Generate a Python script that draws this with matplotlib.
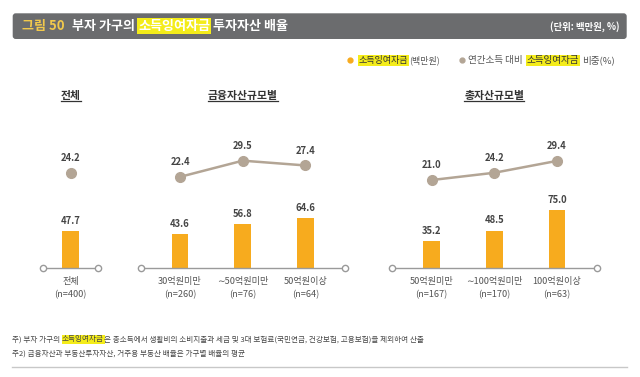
import numpy as np
import matplotlib
matplotlib.use("Agg")
from matplotlib import pyplot as plt
from matplotlib.patches import FancyBboxPatch

plt.rcParams['font.family'] = ['Noto Sans CJK KR', 'DejaVu Sans']

W, H = 640, 377

# data
total_cat = ['전체\n(n=400)']
total_amt = [47.7]
total_pct = [24.2]

fin_cat = ['30억원미만\n(n=260)', '∼50억원미만\n(n=76)', '50억원이상\n(n=64)']
fin_amt = [43.6, 56.8, 64.6]
fin_pct = [22.4, 29.5, 27.4]

asset_cat = ['50억원미만\n(n=167)', '∼100억원미만\n(n=170)', '100억원이상\n(n=63)']
asset_amt = [35.2, 48.5, 75.0]
asset_pct = [21.0, 24.2, 29.4]

panel_titles = ['전체', '금융자산규모별', '총자산규모별']

BAR = '#f7ab1e'
LINE = '#b3a595'
BASE = '#9a9a9a'
HL = '#f4ec1a'
TXT = '#444444'

fig = plt.figure(figsize=(W / 100, H / 100), dpi=100)

# overlay in pixel units for the decorations
lay = fig.add_axes([0, 0, 1, 1])
lay.set_xlim(0, W)
lay.set_ylim(H, 0)
lay.axis('off')


def chain(parts, x, y, size, weight='normal'):
    # parts: (text, colour, highlighted, gap in px before)
    prev = None
    for s, col, hl, gap in parts:
        kw = dict(fontsize=size, color=col, fontweight=weight, va='center', ha='left')
        if hl:
            kw['bbox'] = dict(boxstyle='square,pad=0.08', fc=HL, ec='none')
        if prev is None:
            prev = lay.text(x + gap, y, s, **kw)
        else:
            prev = lay.annotate(s, xy=(1, 0.5), xycoords=prev,
                                xytext=(gap * 0.72, 0), textcoords='offset points', **kw)
    return prev


# title bar
lay.add_patch(FancyBboxPatch((12.7, 13.3), 614, 25.7,
                             boxstyle='round,pad=0,rounding_size=3',
                             fc='#6b6c6e', ec='none'))
chain([('그림 50', '#f2c94c', False, 0),
       ('부자 가구의', 'white', False, 8),
       ('소득잉여자금', 'white', True, 3),
       ('투자자산 배율', 'white', False, 3)], 21.7, 25.7, 9.4, 'bold')
lay.text(619, 27, '(단위: 백만원, %)', ha='right', va='center',
         fontsize=6.8, color='white', fontweight='bold')

# legend
lay.plot([350], [60.3], 'o', color=BAR, ms=3.5)
chain([('소득잉여자금', '#333333', True, 0),
       ('(백만원)', '#555555', False, 1)], 358.5, 60.3, 6.5)
lay.plot([462], [60.3], 'o', color=LINE, ms=3.5)
chain([('연간소득 대비', '#555555', False, 0),
       ('소득잉여자금', '#333333', True, 4),
       ('비중(%)', '#555555', False, 3)], 468, 60.3, 6.9)


def panel(left, width, xlim, cats, amt, pct, title):
    ax = fig.add_axes([left / W, (H - 268.3) / H, width / W, 148 / H])
    ax.patch.set_alpha(0)
    x = np.arange(len(cats))
    ax.bar(x, amt, width=0.27, color=BAR, zorder=2)
    ax.plot(xlim, [0, 0], color=BASE, lw=1, marker='o', ms=4.5, mfc='white',
            mec=BASE, mew=1, clip_on=False, zorder=3)
    for xi, v in zip(x, amt):
        ax.annotate(f'{v:.1f}', (xi, v), xytext=(0, 7.4), textcoords='offset points',
                    ha='center', va='center', fontsize=6.8, fontweight='bold', color=TXT)
    ax.set_xlim(*xlim)
    ax.set_ylim(0, 190)
    ax.set_xticks(x, cats)
    ax.tick_params(axis='x', length=0, pad=6, labelsize=6.6, labelcolor='#555555')
    for lab in ax.get_xticklabels():
        lab.set_linespacing(1.6)
    ax.set_yticks([])
    for sp in ax.spines.values():
        sp.set_visible(False)

    ax2 = ax.twinx()
    ax2.set_ylim(-17.7, 47.2)
    ax2.plot(x, pct, color=LINE, lw=1.8, marker='o', ms=7, clip_on=False)
    for xi, v in zip(x, pct):
        ax2.annotate(f'{v:.1f}', (xi, v), xytext=(0, 10.6), textcoords='offset points',
                     ha='center', va='center', fontsize=6.8, fontweight='bold', color=TXT)
    ax2.set_yticks([])
    for sp in ax2.spines.values():
        sp.set_visible(False)

    t = ax.annotate(title, xy=(0.5, 1), xycoords='axes fraction', xytext=(0, 17.5),
                    textcoords='offset points', ha='center', va='center',
                    fontsize=7.8, fontweight='bold', color='#333333')
    return t


titles = []
titles.append(panel(43.3, 55, (-0.44, 0.44), total_cat, total_amt, total_pct, panel_titles[0]))
titles.append(panel(140.5, 204.5, (-0.63, 2.63), fin_cat, fin_amt, fin_pct, panel_titles[1]))
titles.append(panel(391.6, 205.5, (-0.64, 2.64), asset_cat, asset_amt, asset_pct, panel_titles[2]))

# footnotes
chain([('주) 부자 가구의', TXT, False, 0),
       ('소득잉여자금', TXT, True, 2),
       ('은 총소득에서 생활비의 소비지출과 세금 및 3대 보험료(국민연금, 건강보험, 고용보험)을 제외하여 산출',
        TXT, False, 0)], 12, 339.3, 5.45)
lay.text(12, 353.3, '주2) 금융자산과 부동산투자자산, 거주용 부동산 배율은 가구별 배율의 평균',
         fontsize=5.45, color=TXT, va='center', ha='left')
lay.plot([12, 627], [366.7, 366.7], color='#c8c8c8', lw=1)

# underline the panel titles
fig.canvas.draw()
r = fig.canvas.get_renderer()
for t in titles:
    bb = t.get_window_extent(r)
    lay.plot([bb.x0, bb.x1], [H - bb.y0 + 0.5, H - bb.y0 + 0.5], color='#333333', lw=0.9)

fig.savefig('out.png', dpi=100)
